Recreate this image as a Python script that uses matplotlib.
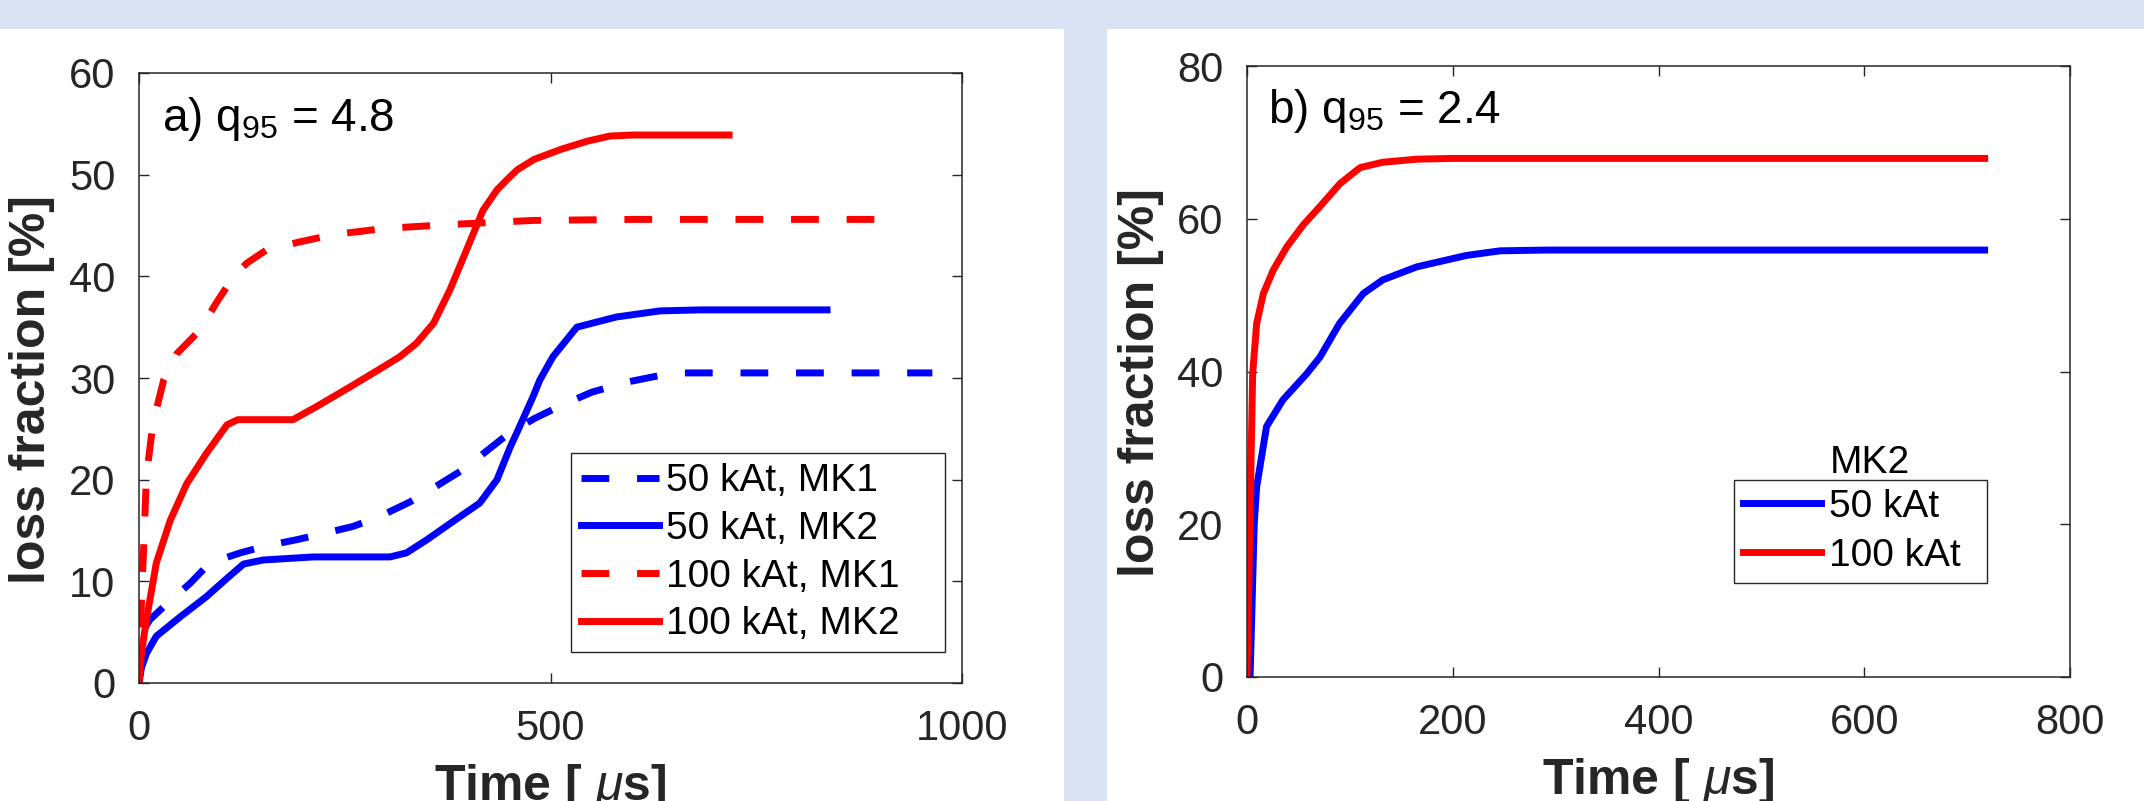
import matplotlib
matplotlib.use("Agg")
import matplotlib.pyplot as plt
from matplotlib.patches import Rectangle

# ---- panel a) q95 = 4.8 ----
t_a_50_mk1 = [0, 4, 13, 30, 62, 86, 123, 155, 192, 224, 260, 293, 329, 354, 394, 447, 480, 513, 550, 593, 630, 661, 964]
v_a_50_mk1 = [0, 5, 6.2, 7.5, 9.8, 11.8, 12.8, 13.5, 14.1, 14.7, 15.4, 16.4, 17.8, 19, 21, 24.4, 26, 27.3, 28.6, 29.6, 30.2, 30.5, 30.5]

t_a_50_mk2 = [0, 3, 9, 21, 50, 82, 107, 127, 151, 212, 305, 325, 350, 380, 414, 435, 451, 459, 479, 487, 503, 532, 580, 633, 682, 836]
v_a_50_mk2 = [0, 1.5, 2.9, 4.6, 6.5, 8.5, 10.3, 11.7, 12.1, 12.4, 12.4, 12.8, 14.1, 15.8, 17.7, 20, 23.2, 24.6, 28.2, 29.8, 32.1, 35.0, 36.0, 36.6, 36.7, 36.7]

t_a_100_mk1 = [0, 3, 6, 9, 17, 30, 46, 74, 94, 115, 131, 155, 196, 236, 297, 378, 479, 600, 896]
v_a_100_mk1 = [0, 8, 14, 20.3, 25.6, 29.8, 32.4, 34.7, 37.4, 40, 41.3, 42.6, 43.4, 44.1, 44.7, 45.1, 45.5, 45.6, 45.6]

t_a_100_mk2 = [0, 3, 9, 21, 38, 58, 82, 107, 120, 187, 216, 256, 297, 317, 337, 358, 378, 398, 418, 435, 447, 460, 480, 513, 545, 572, 600, 717]
v_a_100_mk2 = [0, 3, 6.2, 11.8, 16, 19.6, 22.6, 25.4, 25.9, 25.9, 27.2, 29.1, 31.1, 32.1, 33.4, 35.4, 38.7, 42.6, 46.5, 48.5, 49.5, 50.5, 51.5, 52.5, 53.3, 53.8, 53.9, 53.9]

# ---- panel b) q95 = 2.4 (MK2 only) ----
t_b_50 = [3, 7, 9.4, 19, 35, 58, 71, 90, 113, 132, 165, 213.5, 246, 290, 717]
v_b_50 = [0, 20, 24.9, 32.8, 36.3, 39.7, 41.9, 46.3, 50.2, 52.0, 53.7, 55.2, 55.8, 55.9, 55.9]

t_b_100 = [0, 5.5, 9.4, 15.9, 25.6, 38.6, 54.7, 70.9, 90.4, 110, 132, 165, 200, 717]
v_b_100 = [0, 39.7, 46.3, 50.2, 53.3, 56.3, 59.2, 61.6, 64.6, 66.7, 67.4, 67.8, 67.9, 67.9]

xticks_a = [0, 500, 1000]
yticks_a = [0, 10, 20, 30, 40, 50, 60]
xticks_b = [0, 200, 400, 600, 800]
yticks_b = [0, 20, 40, 60, 80]

plt.rcParams['font.family'] = 'Liberation Sans'
plt.rcParams['mathtext.fontset'] = 'custom'
plt.rcParams['mathtext.rm'] = 'Liberation Sans'
plt.rcParams['mathtext.it'] = 'Liberation Sans:italic'
plt.rcParams['mathtext.bf'] = 'Liberation Sans:bold'

W, H = 2144, 801
bg = '#dae3f3'
dark = '#262626'
lw = 5
dash = (0, (4, 4))

fig = plt.figure(figsize=(W / 100, H / 100), dpi=100, facecolor=bg)

# white panels
fig.add_artist(Rectangle((0, 0), 1064 / W, (H - 29) / H, transform=fig.transFigure,
                         facecolor='white', edgecolor='none', zorder=0))
fig.add_artist(Rectangle((1107 / W, 0), (W - 1107) / W, (H - 29) / H, transform=fig.transFigure,
                         facecolor='white', edgecolor='none', zorder=0))

ax1 = fig.add_axes([139 / W, (H - 683) / H, 823 / W, 610 / H])
ax2 = fig.add_axes([1247 / W, (H - 677) / H, 823 / W, 611 / H])


def style(ax, xt, yt, xlim, ylim):
    ax.set_xlim(*xlim)
    ax.set_ylim(*ylim)
    ax.set_xticks(xt)
    ax.set_yticks(yt)
    ax.tick_params(direction='in', top=True, right=True, length=7, width=1,
                   color=dark, labelcolor=dark, labelsize=30)
    ax.tick_params(axis='x', pad=19)
    ax.tick_params(axis='y', pad=17)
    for s in ax.spines.values():
        s.set_color(dark)
        s.set_linewidth(1.1)
    ax.text(0.5, -0.192, 'Time [ $\\mu$s]', transform=ax.transAxes, ha='center',
            va='baseline', fontsize=36, fontweight='bold', color=dark)


# panel a
ax1.plot(t_a_50_mk1, v_a_50_mk1, color='blue', lw=lw, ls=dash, dash_capstyle='butt', label='50 kAt, MK1')
ax1.plot(t_a_50_mk2, v_a_50_mk2, color='blue', lw=lw, label='50 kAt, MK2')
ax1.plot(t_a_100_mk1, v_a_100_mk1, color='red', lw=lw, ls=dash, dash_capstyle='butt', label='100 kAt, MK1')
ax1.plot(t_a_100_mk2, v_a_100_mk2, color='red', lw=lw, label='100 kAt, MK2')
style(ax1, xticks_a, yticks_a, (0, 1000), (0, 60))
ax1.text(0.028, 0.964, 'a) q$_{95}$ = 4.8', transform=ax1.transAxes, ha='left', va='top',
         fontsize=33, color='black')
leg1 = ax1.legend(loc='lower left', bbox_to_anchor=(0.525, 0.051, 0.454, 0.3),
                  mode='expand', borderaxespad=0, fontsize=28, handlelength=2.0,
                  handletextpad=0.2, labelspacing=0.3, borderpad=0.25,
                  fancybox=False, framealpha=1, edgecolor=dark)
leg1.get_frame().set_linewidth(1)

# panel b
ax2.plot(t_b_50, v_b_50, color='blue', lw=lw, label='50 kAt')
ax2.plot(t_b_100, v_b_100, color='red', lw=lw, label='100 kAt')
style(ax2, xticks_b, yticks_b, (0, 800), (0, 80))
ax2.text(0.0255, 0.966, 'b) q$_{95}$ = 2.4', transform=ax2.transAxes, ha='left', va='top',
         fontsize=33, color='black')
leg2 = ax2.legend(loc='lower left', bbox_to_anchor=(0.592, 0.154, 0.307, 0.15),
                  mode='expand', borderaxespad=0, fontsize=28, handlelength=2.0,
                  handletextpad=0.2, labelspacing=0.34, borderpad=0.23,
                  fancybox=False, framealpha=1, edgecolor=dark)
leg2.get_frame().set_linewidth(1)
ax2.text(0.757, 0.334, 'MK2', transform=ax2.transAxes, ha='center', va='baseline',
         fontsize=28, color='black')

# y labels
fig.text(32 / W, (H - 390) / H, 'loss fraction [%]', rotation=90, ha='center', va='center',
         fontsize=36, fontweight='bold', color=dark)
fig.text(1141 / W, (H - 383) / H, 'loss fraction [%]', rotation=90, ha='center', va='center',
         fontsize=36, fontweight='bold', color=dark)

fig.savefig('out.png', dpi=100, facecolor=bg)
